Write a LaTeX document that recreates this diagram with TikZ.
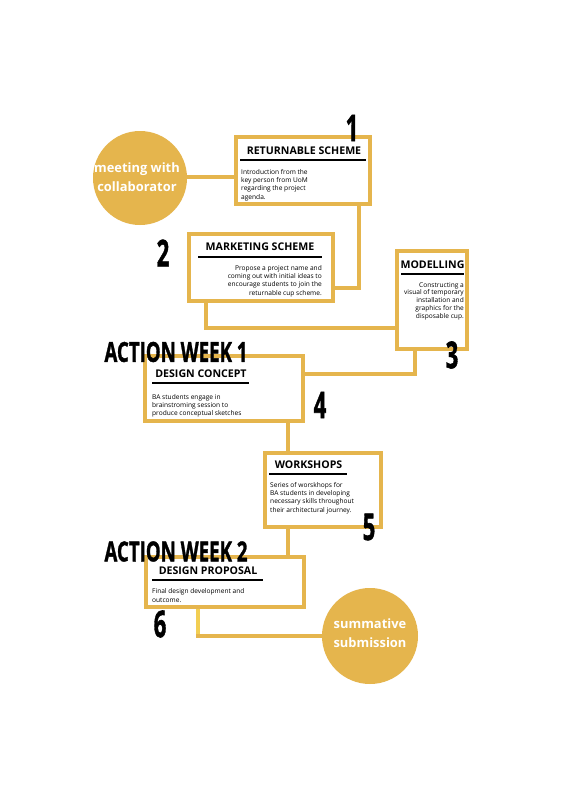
\documentclass[tikz,border=0pt]{standalone}
\usepackage{fontspec}
\setmainfont{Open Sans}
\newfontfamily\heavyfont[FakeBold=1.5]{Open Sans Bold}
\usetikzlibrary{calc}
\definecolor{gold}{RGB}{229,181,77}
\definecolor{lightgold}{RGB}{242,206,82}
\newcommand{\bignum}[1]{\scalebox{0.6}[1]{\fontsize{37}{37}\selectfont\heavyfont #1}}
\begin{document}
\begin{tikzpicture}[x=1pt,y=-1pt,
  box/.style={draw=gold, line width=4pt, fill=white, inner sep=0pt, outer sep=0pt, rectangle},
  conn/.style={draw=gold, line width=4pt},
  ttl/.style={font=\fontsize{10.6}{12}\selectfont\bfseries, inner sep=0pt},
  body/.style={font=\fontsize{6.6}{8.3}\selectfont, inner sep=0pt},
  uline/.style={line width=2pt, black},
  num/.style={inner sep=0pt},
  bubble/.style={circle, fill=gold, inner sep=0pt, outer sep=0pt},
  btxt/.style={text=white, font=\fontsize{12.9}{19}\selectfont\bfseries, align=center, inner sep=0pt}]
\useasboundingbox (0,0) rectangle (564,800);
\fill[white] (0,0) rectangle (564,800);

% bubbles
\node[bubble, minimum size=94pt] (c1) at (140,178) {};
\node[btxt] (c1t) at (137,177) {meeting with\\collaborator};
\node[bubble, minimum size=96pt] (c2) at (370,636) {};

% boxes
\node[box, minimum width=134pt, minimum height=67pt] (b1) at (303,170.5) {};
\node[box, minimum width=144pt, minimum height=67pt] (b2) at (261,267.5) {};
\node[box, minimum width=70pt, minimum height=98pt] (b3) at (432,300) {};
\node[box, minimum width=158pt, minimum height=65pt] (b4) at (224,388.5) {};
\node[box, minimum width=116pt, minimum height=74pt] (b5) at (323,490) {};
\node[box, minimum width=158pt, minimum height=50pt] (b6) at (225,582) {};

% connectors
\draw[conn] (c1.east |- 0,177) -- (b1.west |- 0,177);
\coordinate (p1) at ($(b1.south east)+(-11,0)$);
\draw[conn] (p1) |- ($(b2.east)+(0,20)$);
\coordinate (p2) at ($(b2.south west)+(17,0)$);
\draw[conn] (p2) |- ($(b3.west)+(0,28)$);
\coordinate (p3) at ($(b3.south west)+(18,0)$);
\draw[conn] (p3) |- ($(b4.east)+(0,-15)$);
\coordinate (p4) at ($(b4.south west)+(143,0)$);
\draw[conn] (p4) -- (p4 |- b5.north);
\coordinate (p5) at ($(b5.south west)+(23,0)$);
\draw[conn] (p5) -- (p5 |- b6.north);
\coordinate (p6) at ($(b6.south west)+(52,0)$);
\coordinate (p6c) at (p6 |- c2.west);
\draw[conn] (p6) |- (c2.west);
\draw[conn, draw=lightgold] ($(p6)+(0,2)$) -- ($(p6c)+(0,-2)$);

\node[btxt] (c2t) at (370,633) {summative\\submission};

% titles
\node[ttl] (t1) at (304,151) {RETURNABLE SCHEME};
\node[ttl] (t2) at (260,247) {MARKETING SCHEME};
\node[ttl] (t3) at (432.5,265) {MODELLING};
\node[ttl] (t4) at (201,373.5) {DESIGN CONCEPT};
\node[ttl] (t5) at (308.5,465) {WORKSHOPS};
\node[ttl] (t6) at (208,571) {DESIGN PROPOSAL};

% underlines
\draw[uline] (240,160) -- (366,160);
\draw[uline] (198,257) -- (322,257);
\draw[uline] (401,274) -- (464,274);
\draw[uline] (152,383) -- (249,383);
\draw[uline] (269,474) -- (347,474);
\draw[uline] (152,579.5) -- (263,579.5);

% body texts
\node[body, anchor=north west, align=left] (d1) at (241,169) {Introduction from the\\key person from UoM\\regarding the project\\agenda.};
\node[body, anchor=north east, align=right] (d2) at (322,265) {Propose a project name and\\coming out with initial ideas to\\encourage students to join the\\returnable cup scheme.};
\node[body, anchor=north east, align=right, font=\fontsize{6.6}{7.8}\selectfont] (d3) at (464,282) {Constructing a\\visual of temporary\\installation and\\graphics for the\\disposable cup.};
\node[body, anchor=north west, align=left] (d4) at (152,394) {BA students engage in\\brainstroming session to\\produce conceptual sketches};
\node[body, anchor=north west, align=left] (d5) at (270,482) {Series of worskhops for\\BA students in developing\\necessary skills throughout\\their architectural journey.};
\node[body, anchor=north west, align=left] (d6) at (152,588.5) {Final design development and\\outcome.};

% numbers
\node[num] (n1) at (352,128) {\bignum{1}};
\node[num] (n2) at (163,253) {\bignum{2}};
\node[num] (n3) at (452,355) {\bignum{3}};
\node[num] (n4) at (320,405) {\bignum{4}};
\node[num] (n5) at (369,527) {\bignum{5}};
\node[num] (n6) at (160,624) {\bignum{6}};

% action week headings
\node[num] (aw1) at (176,352) {\resizebox{143pt}{20pt}{\heavyfont ACTION WEEK 1}};
\node[num] (aw2) at (176,551.5) {\resizebox{143pt}{20pt}{\heavyfont ACTION WEEK 2}};
\end{tikzpicture}
\end{document}
